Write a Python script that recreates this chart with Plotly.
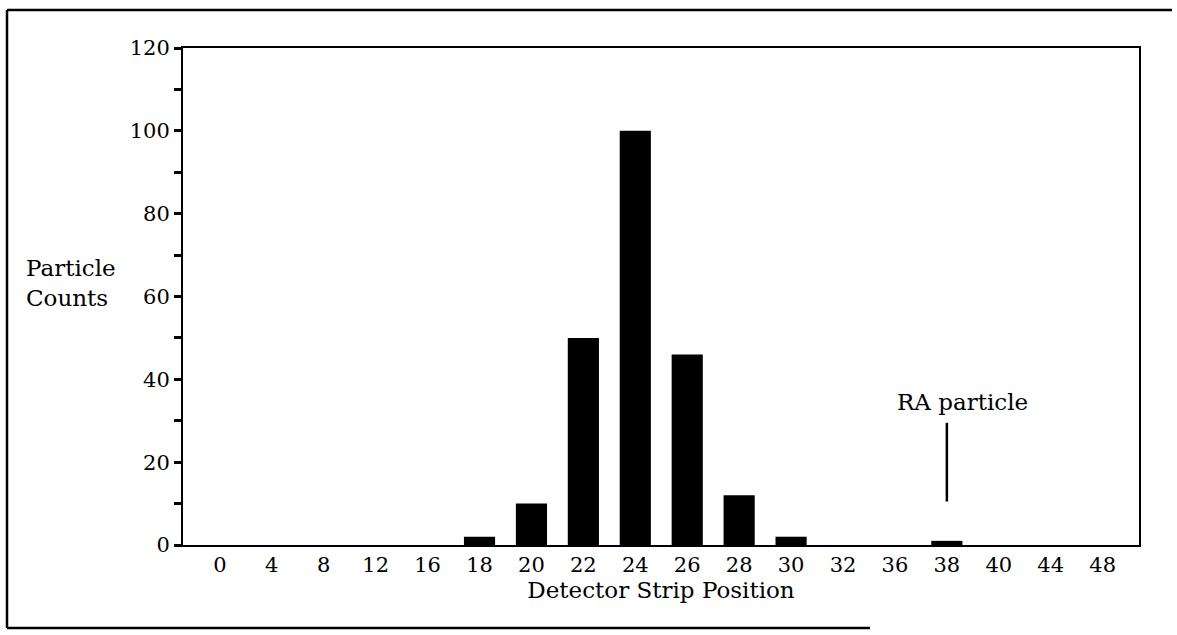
import plotly.graph_objects as go

# ---- data ----
strip_positions = ["0", "4", "8", "12", "16", "18", "20", "22", "24", "26",
                   "28", "30", "32", "36", "38", "40", "44", "48"]
particle_counts = [0, 0, 0, 0, 0, 2, 10, 50, 100, 46, 12, 2, 0, 0, 1, 0, 0, 0]
y_major_ticks = [0, 20, 40, 60, 80, 100, 120]
y_minor_ticks = [10, 30, 50, 70, 90, 110]
ra_label = "RA particle"
ra_position = "38"
ra_line_bottom = 10.5
ra_line_top = 29.5

FONT = "DejaVu Serif"
TICK_SIZE = 21
TEXT_SIZE = 23

W, H = 1177, 635
L, R, T, B = 183, 38, 48, 90
pw, ph = W - L - R, H - T - B


def px(x):
    return (x - L) / pw


def py(y):
    return (H - B - y) / ph


fig = go.Figure()
fig.add_trace(go.Bar(
    x=strip_positions, y=particle_counts,
    marker=dict(color="black", line=dict(width=0)),
    width=0.6,
))

ra_idx = strip_positions.index(ra_position)
fig.add_shape(type="line", xref="x", yref="y",
              x0=ra_idx, x1=ra_idx, y0=ra_line_bottom, y1=ra_line_top,
              line=dict(color="black", width=2.5))
fig.add_annotation(x=ra_idx, y=ra_line_top, xref="x", yref="y",
                   text=ra_label, showarrow=False, yanchor="bottom",
                   yshift=6, xshift=16,
                   font=dict(family=FONT, size=TEXT_SIZE, color="black"))

# y-axis title (two lines, left aligned)
fig.add_annotation(x=px(24), y=py(283), xref="paper", yref="paper",
                   text="Particle<br>Counts", showarrow=False, align="left",
                   xanchor="left", yanchor="middle",
                   font=dict(family=FONT, size=TEXT_SIZE, color="black"))

# outer frame (left, top, bottom edges)
frame = dict(color="black", width=2.5)
fig.add_shape(type="line", xref="paper", yref="paper",
              x0=px(7), x1=px(7), y0=py(10), y1=py(628), line=frame)
fig.add_shape(type="line", xref="paper", yref="paper",
              x0=px(7), x1=px(1172), y0=py(10), y1=py(10), line=frame)
fig.add_shape(type="line", xref="paper", yref="paper",
              x0=px(7), x1=px(870), y0=py(628), y1=py(628), line=frame)

fig.update_layout(
    width=W, height=H,
    margin=dict(l=L, r=R, t=T, b=B, autoexpand=False),
    paper_bgcolor="white", plot_bgcolor="white",
    showlegend=False, bargap=0.4,
    font=dict(family=FONT, size=TICK_SIZE, color="black"),
)
fig.update_xaxes(
    type="category", range=[-0.71, 17.7],
    showline=True, linecolor="black", linewidth=1.5, mirror=True,
    ticks="", showgrid=False, zeroline=False,
    tickfont=dict(family=FONT, size=TICK_SIZE, color="black"),
    title=dict(text="Detector Strip Position", standoff=4,
               font=dict(family=FONT, size=TEXT_SIZE, color="black")),
)
fig.update_yaxes(
    range=[0, 120], tickvals=y_major_ticks,
    showline=True, linecolor="black", linewidth=2, mirror=True,
    ticks="outside", ticklen=7, tickwidth=3, tickcolor="black",
    minor=dict(tickvals=y_minor_ticks, ticks="outside", ticklen=7,
               tickwidth=3, tickcolor="black", showgrid=False),
    showgrid=False, zeroline=False,
    tickfont=dict(family=FONT, size=TICK_SIZE, color="black"),
)

fig.write_html("out.html",
               config={"displayModeBar": False},
               post_script="document.body.style.margin='0';"
                           "document.body.style.padding='0';")
